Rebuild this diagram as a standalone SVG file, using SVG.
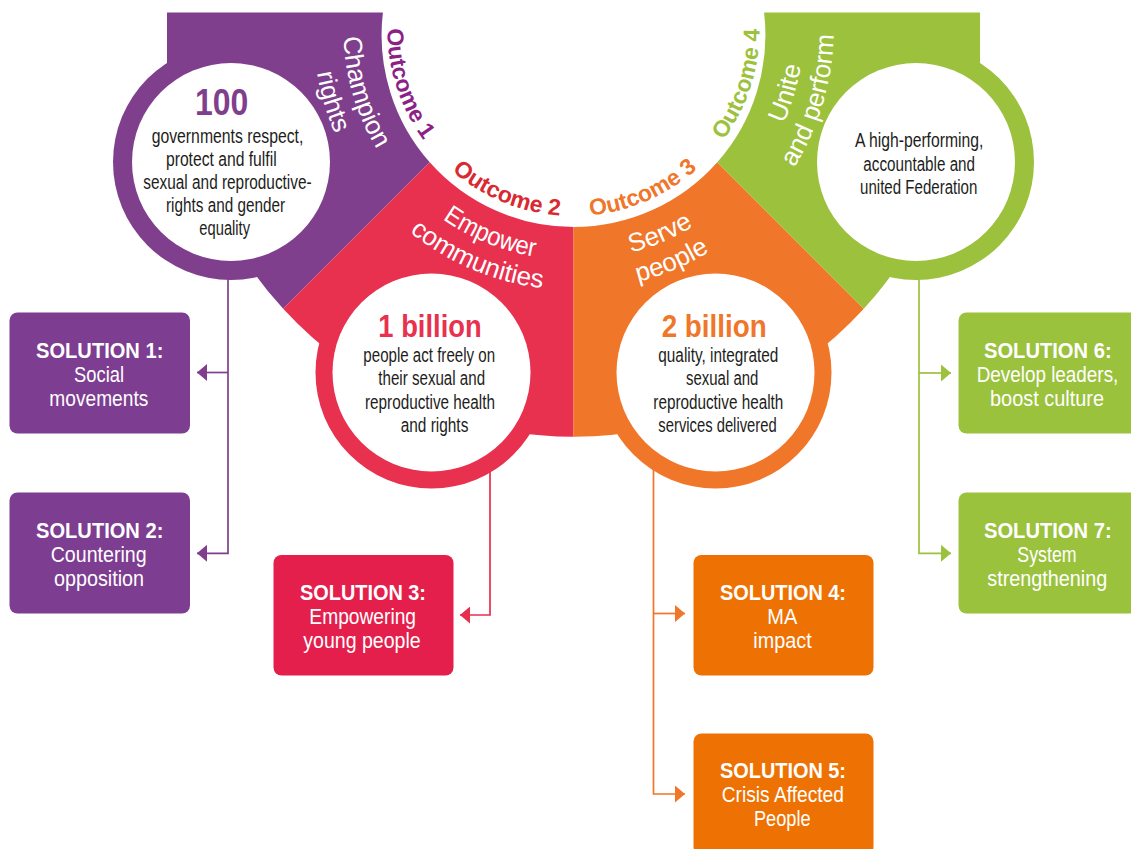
<svg xmlns="http://www.w3.org/2000/svg" width="1131" height="849" viewBox="0 0 1131 849">
<style>
text{font-family:"Liberation Sans",Arial,sans-serif}
.body{font-size:19.5px;fill:#1d1d1b;text-anchor:middle}
.big{font-weight:bold;text-anchor:middle}
.band{font-size:26px;fill:#fff;text-anchor:middle}
.oc{font-weight:bold;font-size:23px;text-anchor:middle}
.sh{font-weight:bold;font-size:22px;fill:#fff;text-anchor:middle}
.sb{font-size:22px;fill:#fff;text-anchor:middle}
.conn path{fill:none;stroke-width:1.7}
</style>
<defs>
<path id="a186" d="M398.72,-33.61 A186,186 0 1 0 748.28,-33.61"/>
<path id="a230" d="M357.37,-48.66 A230,230 0 1 0 789.63,-48.66"/>
<path id="a260" d="M329.18,-58.92 A260,260 0 1 0 817.82,-58.92"/>
<marker id="mP" viewBox="0 0 10 17" refX="10" refY="8.5" markerWidth="10" markerHeight="17" markerUnits="userSpaceOnUse" orient="auto"><path d="M0,0L10,8.5L0,17Z" fill="#7F3F8D"/></marker>
<marker id="mR" viewBox="0 0 10 17" refX="10" refY="8.5" markerWidth="10" markerHeight="17" markerUnits="userSpaceOnUse" orient="auto"><path d="M0,0L10,8.5L0,17Z" fill="#E62F4F"/></marker>
<marker id="mO" viewBox="0 0 10 17" refX="10" refY="8.5" markerWidth="10" markerHeight="17" markerUnits="userSpaceOnUse" orient="auto"><path d="M0,0L10,8.5L0,17Z" fill="#F07629"/></marker>
<marker id="mG" viewBox="0 0 10 17" refX="10" refY="8.5" markerWidth="10" markerHeight="17" markerUnits="userSpaceOnUse" orient="auto"><path d="M0,0L10,8.5L0,17Z" fill="#9CC13D"/></marker>
</defs>
<rect width="1131" height="849" fill="#fff"/>

<g id="outcome1">
<path fill="#7F3F8D" d="M167,12.5 L382.9,12.5 A192,192 0 0 0 429.75,162.25 L283.2,308.8 A393.5,393.5 0 0 1 180.5,62 L180.5,80 L167,80 Z"/>
<circle cx="231" cy="162" r="118" fill="#7F3F8D"/>
<circle cx="231" cy="162" r="99" fill="#fff"/>
<text class="big" x="221.7" y="115" font-size="37" fill="#7F3F8D" textLength="53.3" lengthAdjust="spacingAndGlyphs">100</text>
<text class="body" x="227.5" y="142.5" textLength="151.7" lengthAdjust="spacingAndGlyphs">governments respect,</text>
<text class="body" x="221.3" y="165.5" textLength="110.7" lengthAdjust="spacingAndGlyphs">protect and fulfil</text>
<text class="body" x="227.5" y="188.5" textLength="168.3" lengthAdjust="spacingAndGlyphs">sexual and reproductive-</text>
<text class="body" x="225.5" y="211.5" textLength="119" lengthAdjust="spacingAndGlyphs">rights and gender</text>
<text class="body" x="224.7" y="234.5" textLength="50.7" lengthAdjust="spacingAndGlyphs">equality</text>
<text class="oc" fill="#8C1F88"><textPath href="#a186" startOffset="17.27%">Outcome 1</textPath></text>
<text class="band"><textPath href="#a230" startOffset="16.59%">Champion</textPath></text>
<text class="band"><textPath href="#a260" startOffset="16.59%">rights</textPath></text>
</g>

<g id="outcome2">
<path fill="#E8304F" d="M429.75,162.25 A192,192 0 0 0 573.5,227 L573.5,436.7 A393.5,393.5 0 0 1 283.2,308.8 Z"/>
<circle cx="431.5" cy="372.5" r="116" fill="#E8304F"/>
<circle cx="431.5" cy="372.5" r="99" fill="#fff"/>
<text class="big" x="430" y="337" font-size="31" fill="#E8304F" textLength="103.3" lengthAdjust="spacingAndGlyphs">1 billion</text>
<text class="body" x="429.2" y="361.5" textLength="131.7" lengthAdjust="spacingAndGlyphs">people act freely on</text>
<text class="body" x="431.7" y="385" textLength="106.7" lengthAdjust="spacingAndGlyphs">their sexual and</text>
<text class="body" x="430" y="408.5" textLength="130" lengthAdjust="spacingAndGlyphs">reproductive health</text>
<text class="body" x="434.5" y="432" textLength="67.7" lengthAdjust="spacingAndGlyphs">and rights</text>
<text class="oc" fill="#D72A31"><textPath href="#a186" startOffset="39.77%">Outcome 2</textPath></text>
<text class="band"><textPath href="#a230" startOffset="39.9%" textLength="100" lengthAdjust="spacingAndGlyphs">Empower</textPath></text>
<text class="band"><textPath href="#a260" startOffset="39.55%">communities</textPath></text>
</g>

<g id="outcome3">
<path fill="#F07629" d="M717.25,162.25 A192,192 0 0 1 573.5,227 L573.5,436.7 A393.5,393.5 0 0 0 863.8,308.8 Z"/>
<circle cx="715.5" cy="372.5" r="116" fill="#F07629"/>
<circle cx="715.5" cy="372.5" r="99" fill="#fff"/>
<text class="big" x="714.2" y="337" font-size="31" fill="#F07629" textLength="105" lengthAdjust="spacingAndGlyphs">2 billion</text>
<text class="body" x="718.3" y="361.5" textLength="120" lengthAdjust="spacingAndGlyphs">quality, integrated</text>
<text class="body" x="722.2" y="385" textLength="72.3" lengthAdjust="spacingAndGlyphs">sexual and</text>
<text class="body" x="718.3" y="408.5" textLength="130" lengthAdjust="spacingAndGlyphs">reproductive health</text>
<text class="body" x="717.5" y="432" textLength="118.3" lengthAdjust="spacingAndGlyphs">services delivered</text>
<text class="oc" fill="#F07629"><textPath href="#a186" startOffset="60.68%">Outcome 3</textPath></text>
<text class="band"><textPath href="#a230" startOffset="60.45%">Serve</textPath></text>
<text class="band"><textPath href="#a260" startOffset="60.45%">people</textPath></text>
</g>

<g id="outcome4">
<path fill="#9CC13D" d="M980,12.5 L764.1,12.5 A192,192 0 0 1 717.25,162.25 L863.8,308.8 A393.5,393.5 0 0 0 966.5,62 L966.5,80 L980,80 Z"/>
<circle cx="916" cy="162" r="118" fill="#9CC13D"/>
<circle cx="916" cy="162" r="99" fill="#fff"/>
<text class="body" x="919.2" y="146.5" textLength="128.3" lengthAdjust="spacingAndGlyphs">A high-performing,</text>
<text class="body" x="919.2" y="170.5" textLength="111.7" lengthAdjust="spacingAndGlyphs">accountable and</text>
<text class="body" x="918.7" y="194" textLength="117.3" lengthAdjust="spacingAndGlyphs">united Federation</text>
<text class="oc" fill="#9CC13D"><textPath href="#a186" startOffset="82.73%">Outcome 4</textPath></text>
<text class="band"><textPath href="#a230" startOffset="83.41%">Unite</textPath></text>
<text class="band"><textPath href="#a260" startOffset="83.41%">and perform</textPath></text>
</g>

<g id="connectors" class="conn">
<path stroke="#7F3F8D" d="M228,279 V553.3 H197" marker-end="url(#mP)"/>
<path stroke="#7F3F8D" d="M228,372.5 H197" marker-end="url(#mP)"/>
<path stroke="#E62F4F" d="M490,472 V615 H460" marker-end="url(#mR)"/>
<path stroke="#F07629" d="M653.5,465 V794 H685" marker-end="url(#mO)"/>
<path stroke="#F07629" d="M653.5,613.5 H685" marker-end="url(#mO)"/>
<path stroke="#9CC13D" d="M919,279 V553.3 H951" marker-end="url(#mG)"/>
<path stroke="#9CC13D" d="M919,373 H951" marker-end="url(#mG)"/>
</g>

<g id="solution1"><rect x="9.5" y="312.5" width="180.5" height="121" rx="8" fill="#7D3D91"/>
<text class="sh" x="99.7" y="358" textLength="127.3" lengthAdjust="spacingAndGlyphs">SOLUTION 1:</text>
<text class="sb" x="99" y="382" textLength="50" lengthAdjust="spacingAndGlyphs">Social</text>
<text class="sb" x="98.8" y="406" textLength="99" lengthAdjust="spacingAndGlyphs">movements</text></g>
<g id="solution2"><rect x="9.5" y="492.5" width="180.5" height="121" rx="8" fill="#7D3D91"/>
<text class="sh" x="99.7" y="538" textLength="127.3" lengthAdjust="spacingAndGlyphs">SOLUTION 2:</text>
<text class="sb" x="98.7" y="562" textLength="96" lengthAdjust="spacingAndGlyphs">Countering</text>
<text class="sb" x="99" y="586" textLength="90" lengthAdjust="spacingAndGlyphs">opposition</text></g>
<g id="solution3"><rect x="273.5" y="555" width="180" height="120.5" rx="8" fill="#E41F4C"/>
<text class="sh" x="363" y="599.5" textLength="126" lengthAdjust="spacingAndGlyphs">SOLUTION 3:</text>
<text class="sb" x="362.7" y="623.5" textLength="106.7" lengthAdjust="spacingAndGlyphs">Empowering</text>
<text class="sb" x="362" y="647.5" textLength="117.3" lengthAdjust="spacingAndGlyphs">young people</text></g>
<g id="solution4"><rect x="693.5" y="555" width="180" height="120.5" rx="8" fill="#EE7203"/>
<text class="sh" x="783" y="599.5" textLength="126" lengthAdjust="spacingAndGlyphs">SOLUTION 4:</text>
<text class="sb" x="782.3" y="623.5" textLength="30" lengthAdjust="spacingAndGlyphs">MA</text>
<text class="sb" x="782.5" y="647.5" textLength="58.3" lengthAdjust="spacingAndGlyphs">impact</text></g>
<g id="solution5"><rect x="693.5" y="733.5" width="180" height="121" rx="8" fill="#EE7203"/>
<text class="sh" x="783" y="778" textLength="126" lengthAdjust="spacingAndGlyphs">SOLUTION 5:</text>
<text class="sb" x="782.8" y="802" textLength="122.3" lengthAdjust="spacingAndGlyphs">Crisis Affected</text>
<text class="sb" x="782.3" y="826" textLength="56.7" lengthAdjust="spacingAndGlyphs">People</text></g>
<g id="solution6"><rect x="958.5" y="312.5" width="180.5" height="121" rx="8" fill="#9BC23C"/>
<text class="sh" x="1047.8" y="358" textLength="127.7" lengthAdjust="spacingAndGlyphs">SOLUTION 6:</text>
<text class="sb" x="1047.5" y="382" textLength="141.7" lengthAdjust="spacingAndGlyphs">Develop leaders,</text>
<text class="sb" x="1047" y="406" textLength="114" lengthAdjust="spacingAndGlyphs">boost culture</text></g>
<g id="solution7"><rect x="958.5" y="492.5" width="180.5" height="121" rx="8" fill="#9BC23C"/>
<text class="sh" x="1047.8" y="538" textLength="127.7" lengthAdjust="spacingAndGlyphs">SOLUTION 7:</text>
<text class="sb" x="1047" y="562" textLength="59.3" lengthAdjust="spacingAndGlyphs">System</text>
<text class="sb" x="1047.3" y="586" textLength="120" lengthAdjust="spacingAndGlyphs">strengthening</text></g>
</svg>
